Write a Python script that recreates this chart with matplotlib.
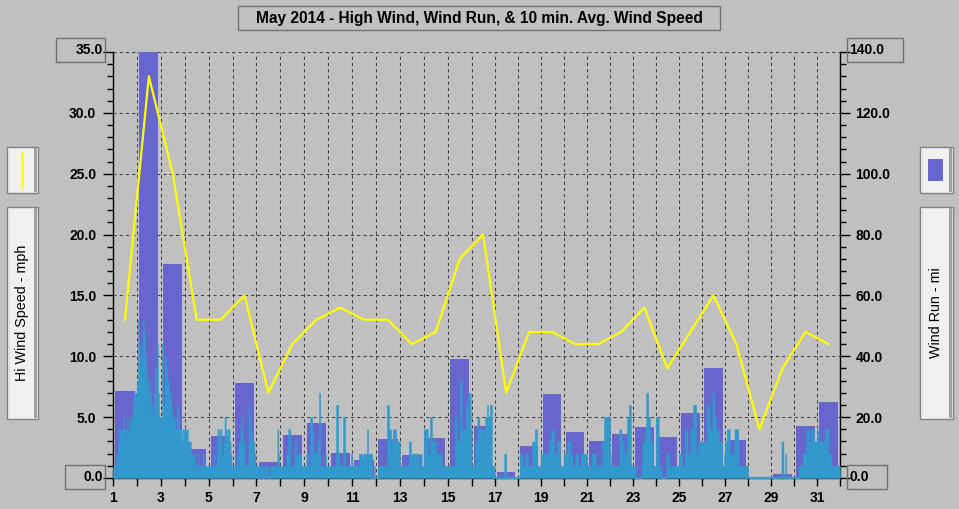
import numpy as np
import matplotlib
matplotlib.use("Agg")
from matplotlib import pyplot as plt
from matplotlib.patches import Rectangle
from matplotlib.lines import Line2D

plt.rcParams["font.family"] = ["Liberation Sans", "DejaVu Sans"]

# data
days = np.arange(1, 32)
hi_wind = [13, 33, 25, 13, 13, 15, 7, 11, 13, 14, 13, 13, 11, 12, 18, 20,
           7, 12, 12, 11, 11, 12, 14, 9, 12, 15, 11, 4, 9, 12, 11]
wind_run = [28.7, 150, 70.2, 9.6, 13.8, 31.3, 5.3, 14.2, 18.1, 8.2, 5.9, 12.8,
            7.6, 13.2, 39.0, 17.0, 2.0, 10.5, 27.6, 15.2, 12.0, 14.4, 16.9,
            13.6, 21.2, 36.0, 12.5, 0.0, 1.4, 17.2, 25.1]
# hourly 10 min. avg wind speed, one string per day (a=10, b=11 ...)
avg_hourly = [
    "101223444454435445556777", "8dba9bdca98787565796b755",
    "5b66a9887765554465444344", "444333222211121111211111",
    "111112113443412354344321", "111121334533111165433321",
    "111111011111001111111421", "111111224411113322222111",
    "112211554222233711111211", "111111116621111551111112",
    "111111122212222422220010", "001111111116644234443333",
    "111111111332222222211211", "444422553333222222111111",
    "111111155333884444667774", "111133554444345565566111",
    "000000000022000000000000", "002221112221111333441111",
    "222222222334442223331111", "222233322111222111222222",
    "111112222211111133555555", "211111111144333222556611",
    "111000000133347755333111", "555111000002221111111111",
    "222111444222444666223333", "333336664447755444333112",
    "334442222244441111111111", "000000000000000000000000",
    "000000000003300200000000", "000001111222244433444333",
    "443333334444222111111111",
]
title = "May 2014 - High Wind, Wind Run, & 10 min. Avg. Wind Speed"

BG = "#c0c0c0"
PURPLE = "#6666cc"
CYAN = "#3399cc"
YELLOW = "#ffff00"
W, H = 959, 509

avg_speed = np.array([int(c, 16) for s in avg_hourly for c in s], dtype=float)
hours = 1 + np.arange(len(avg_speed)) / 24.0
hours = np.append(hours, 32.0)
avg_speed = np.append(avg_speed, avg_speed[-1])

# day grid in the original is a bit uneven (24px early, 23px late)
knots_day = [1, 16, 32]
knots_px = [0, 358.3, 726.3]


def fwd(x):
    return np.interp(x, knots_day, knots_px)


def inv(p):
    return np.interp(p, knots_px, knots_day)


fig = plt.figure(figsize=(W / 100, H / 100), dpi=100, facecolor=BG)
ax = fig.add_axes([113 / W, 1 - 478 / H, (840 - 113) / W, (478 - 52) / H])
ax.set_facecolor(BG)
ax.set_xscale("function", functions=(fwd, inv))

# wind run bars (right axis)
ax.bar(days + 0.5, wind_run, width=0.8, color=PURPLE, lw=0, zorder=2)
ax.set_ylim(0, 140)
ax.set_xlim(1, 32)
ax.set_axisbelow(True)
ax.grid(True, which="major", color="#404040", lw=0.75, ls=(0, (3, 3)))

ax2 = ax.twinx()
ax2.set_xscale("function", functions=(fwd, inv))
ax2.set_xlim(1, 32)
ax2.fill_between(hours, avg_speed, step="post", color=CYAN, ec=CYAN, lw=0.4)
ax2.axhline(0, color=CYAN, lw=1.5)
ax2.plot(days + 0.5, hi_wind, color=YELLOW, lw=1.6)
ax2.set_ylim(0, 35)

ax.spines["top"].set_visible(False)
for s in ax2.spines.values():
    s.set_visible(False)
for s in ["left", "right", "bottom"]:
    ax.spines[s].set_color("black")
    ax.spines[s].set_linewidth(1)

# right axis: wind run
ax.yaxis.tick_right()
rticks = np.arange(0, 141, 20)
ax.set_yticks(rticks, labels=["" if v in (0, 140) else "%.1f" % v for v in rticks],
              fontweight="bold", fontsize=10)
ax.set_yticks(np.arange(0, 141, 4), minor=True)
ax.tick_params(axis="y", which="major", length=7, width=1, pad=4, right=True, left=False)
ax.tick_params(axis="y", which="minor", length=4, width=1, right=True, left=False)

# left axis: mph
ax2.yaxis.tick_left()
lticks = np.arange(0, 36, 5)
ax2.set_yticks(lticks, labels=["" if v in (0, 35) else "%.1f" % v for v in lticks],
               fontweight="bold", fontsize=10)
ax2.set_yticks(np.arange(0, 36, 1), minor=True)
ax2.tick_params(axis="y", which="major", length=7, width=1, pad=5, left=True, right=False)
ax2.tick_params(axis="y", which="minor", length=4, width=1, left=True, right=False)

xt = np.arange(1, 33)
ax.set_xticks(xt, labels=[str(d) if d % 2 == 1 and d < 32 else "" for d in xt],
              fontweight="bold", fontsize=10)
ax.tick_params(axis="x", which="major", length=6, width=1, pad=3)
ax2.tick_params(axis="x", which="both", bottom=False, labelbottom=False)
ax.xaxis.set_minor_locator(matplotlib.ticker.NullLocator())
ax2.xaxis.set_minor_locator(matplotlib.ticker.NullLocator())


def box(x0, y0, x1, y1, fc="none", ec="#707070", lw=1.0):
    fig.add_artist(Rectangle((x0 / W, 1 - y1 / H), (x1 - x0) / W, (y1 - y0) / H,
                             transform=fig.transFigure, fc=fc, ec=ec, lw=lw))


# title box
box(238, 6, 720, 30)
fig.text(479 / W, 1 - 18 / H, title, ha="center", va="center",
         fontsize=11.2, fontweight="bold")

# boxed extreme values
box(56, 38, 105, 62)
fig.text(103 / W, 1 - 50 / H, "35.0", ha="right", va="center", fontsize=10, fontweight="bold")
box(847, 38, 903, 62)
fig.text(849 / W, 1 - 50 / H, "140.0", ha="left", va="center", fontsize=10, fontweight="bold")
box(65, 465, 105, 489)
fig.text(103 / W, 1 - 477 / H, "0.0", ha="right", va="center", fontsize=10, fontweight="bold")
box(847, 465, 887, 489)
fig.text(849 / W, 1 - 477 / H, "0.0", ha="left", va="center", fontsize=10, fontweight="bold")


def legend_panel(x0, y0, x1, y1):
    box(x0, y0, x1, y1, fc="#f0f0f0", ec="#808080")
    box(x0 + 1, y0 + 1, x0 + 3, y1 - 1, fc="#e0e0e0", ec="none", lw=0)
    box(x1 - 4, y0 + 1, x1 - 1, y1 - 1, fc="#a0a0a0", ec="none", lw=0)


legend_panel(7, 147, 38, 193)
fig.add_artist(Line2D([22 / W, 22 / W], [1 - 153 / H, 1 - 187 / H],
                      transform=fig.transFigure, color=YELLOW, lw=1.8))
legend_panel(7, 207, 38, 419)
fig.text(22 / W, 1 - 313 / H, "Hi Wind Speed - mph", rotation=90,
         ha="center", va="center", fontsize=10.3)

legend_panel(920, 147, 953, 193)
box(928, 159, 943, 181, fc=PURPLE, ec="none", lw=0)
legend_panel(920, 207, 953, 419)
fig.text(936 / W, 1 - 313 / H, "Wind Run - mi", rotation=90,
         ha="center", va="center", fontsize=10.3)

fig.savefig("out.png", dpi=100, facecolor=BG)
